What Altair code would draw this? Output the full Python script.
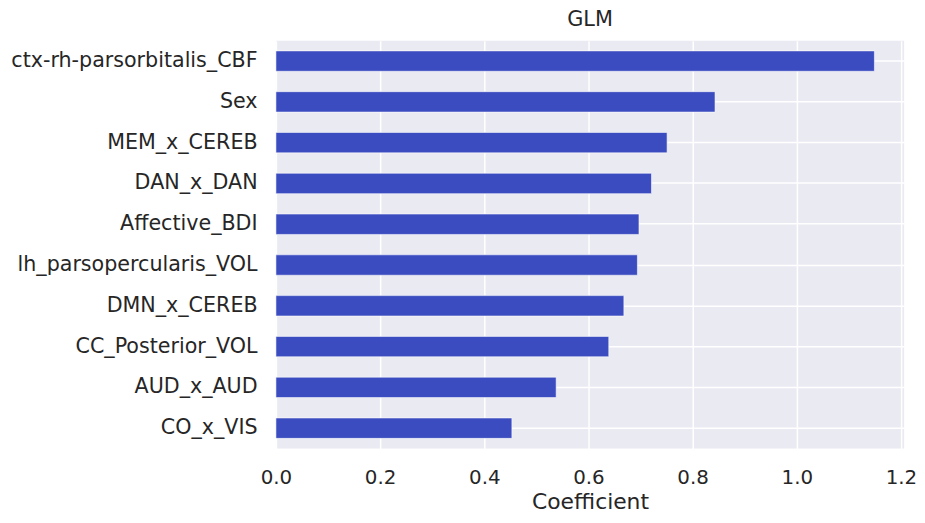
import altair as alt
import pandas as pd

features = [
    "ctx-rh-parsorbitalis_CBF",
    "Sex",
    "MEM_x_CEREB",
    "DAN_x_DAN",
    "Affective_BDI",
    "lh_parsopercularis_VOL",
    "DMN_x_CEREB",
    "CC_Posterior_VOL",
    "AUD_x_AUD",
    "CO_x_VIS",
]
coefficients = [1.149, 0.843, 0.751, 0.721, 0.697, 0.694, 0.668, 0.639, 0.538, 0.453]
x_ticks = [0.0, 0.2, 0.4, 0.6, 0.8, 1.0, 1.2]

df = pd.DataFrame({"feature": features, "coef": coefficients})

FONT = "DejaVu Sans"
TXT = "#262626"

chart = (
    alt.Chart(df)
    .mark_bar(color="#3b4cc0", stroke="#ffffff", strokeWidth=0.8, strokeOpacity=0.7)
    .encode(
        x=alt.X(
            "coef:Q",
            title="Coefficient",
            scale=alt.Scale(domain=[0, 1.206], nice=False, zero=True),
            axis=alt.Axis(
                values=x_ticks,
                format=".1f",
                labelFontSize=20,
                titleFontSize=22,
                labelPadding=19,
                titlePadding=4,
                tickSize=0,
                labelFlush=False,
            ),
        ),
        y=alt.Y(
            "feature:N",
            sort=features,
            title=None,
            scale=alt.Scale(paddingInner=0.5, paddingOuter=0.25),
            axis=alt.Axis(
                labelFontSize=20.8,
                labelPadding=19,
                tickSize=0,
                bandPosition=0.5,
                labelLimit=400,
            ),
        ),
    )
    .properties(
        width=633,
        height=411,
        title=alt.TitleParams("GLM", fontSize=21, font=FONT, color=TXT, fontWeight="normal", offset=11),
        padding={"left": 270, "top": 31, "right": 13, "bottom": 65},
        autosize=alt.AutoSizeParams(type="none"),
    )
    .configure(background="#ffffff")
    .configure_view(fill="#EAEAF2", stroke=None)
    .configure_axis(
        domain=False,
        grid=True,
        gridColor="#ffffff",
        gridWidth=1.5,
        labelFont=FONT,
        titleFont=FONT,
        labelColor=TXT,
        titleColor=TXT,
        titleFontWeight="normal",
    )
)

chart.save("out.html", embed_options={"renderer": "svg", "actions": False})
